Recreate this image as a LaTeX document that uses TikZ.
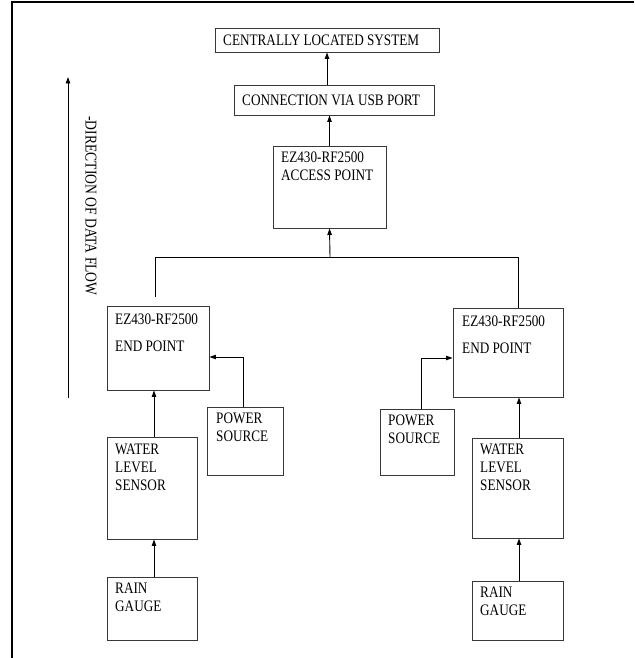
\documentclass[tikz,border=0pt]{standalone}
\usepackage{fontspec}
\setmainfont{Liberation Serif}
\newfontfamily\tallfont[FakeStretch=0.825]{Liberation Serif}
\usetikzlibrary{arrows.meta,positioning}
\tikzset{
  box/.style={draw=black!78, line width=0.95pt, inner sep=0pt},
  txt/.style={anchor=north west, inner sep=0pt, align=left, font=\tallfont\fontsize{16}{18}\selectfont},
  arr/.style={line width=0.9pt, -{Triangle[length=6.5pt,width=4.5pt]}},
  ln/.style={line width=0.9pt}
}
\begin{document}
\begin{tikzpicture}[x=1pt,y=-1pt]
\useasboundingbox (0,0) rectangle (634,658);
% frame
\draw[line width=1.6pt] (12,658) -- (12,2) -- (634,2);
% boxes
\node[box, minimum width=224, minimum height=24] (cen) at (327,40) {};
\node[box, minimum width=200, minimum height=30] (con) at (334,100) {};
\node[box, minimum width=113, minimum height=82] (acc) at (329.5,187) {};
\node[box, minimum width=102, minimum height=84] (lep) at (158,348) {};
\node[box, minimum width=110, minimum height=89] (rep) at (508,352.5) {};
\node[box, minimum width=76, minimum height=68] (lps) at (245,441) {};
\node[box, minimum width=74, minimum height=66] (rps) at (417,442) {};
\node[box, minimum width=90, minimum height=102] (lwl) at (152,488) {};
\node[box, minimum width=91, minimum height=100] (rwl) at (517.5,488) {};
\node[box, minimum width=90, minimum height=63] (lrg) at (152,608.5) {};
\node[box, minimum width=91, minimum height=59] (rrg) at (517.5,610.5) {};
% texts
\node[txt] (cent) at (223,34.7) {CENTRALLY LOCATED SYSTEM};
\node[txt] (cont) at (242,94.7) {CONNECTION VIA USB PORT};
\node[txt] (acct) at (281,151.7) {EZ430-RF2500\\ACCESS POINT};
\node[txt] (lept) at (115,313.2) {EZ430-RF2500\\[9pt]END POINT};
\node[txt] (rept) at (462,315.2) {EZ430-RF2500\\[9pt]END POINT};
\node[txt] (lpst) at (216,412.7) {POWER\\SOURCE};
\node[txt] (rpst) at (388,414.7) {POWER\\SOURCE};
\node[txt] (lwlt) at (115,443.7) {WATER\\LEVEL\\SENSOR};
\node[txt] (rwlt) at (480,443.7) {WATER\\LEVEL\\SENSOR};
\node[txt] (lrgt) at (115,582.7) {RAIN\\GAUGE};
\node[txt] (rrgt) at (480,586.7) {RAIN\\GAUGE};
% connectors
\draw[arr] (con.north -| cen.south) -- (cen.south);
\draw[arr] (acc.north) -- (acc.north |- con.south);
\coordinate (bus) at (330,257);
\coordinate (busL) at (155,257);
\coordinate (busR) at (518,257);
\coordinate (dropL) at (155,297);
\draw[arr] (bus) -- (acc.south);
\draw[ln] (dropL) -- (busL) -- (busR) -- (busR |- rep.north);
\draw[arr] ([xshift=2pt]lwl.north) -- ([xshift=2pt]lwl.north |- lep.south);
\draw[arr] ([xshift=2pt]lrg.north) -- ([xshift=2pt]lrg.north |- lwl.south);
\draw[arr] ([xshift=1.5pt]rwl.north) -- ([xshift=1.5pt]rwl.north |- rep.south);
\draw[arr] ([xshift=1.5pt]rrg.north) -- ([xshift=1.5pt]rrg.north |- rwl.south);
\draw[arr] ([xshift=-2pt]lps.north) |- ([yshift=-9pt]lep.east);
\draw[arr] ([xshift=4pt]rps.north) |- ([yshift=-5.5pt]rep.west);
% direction of data flow
\coordinate (dirS) at (68,398);
\coordinate (dirE) at (68,77);
\draw[arr] (dirS) -- (dirE);
\node[font=\tallfont\fontsize{16.5}{18}\selectfont, rotate=-90, inner sep=0pt] (dirt) at (91,206) {-DIRECTION OF DATA FLOW};
\end{tikzpicture}
\end{document}
